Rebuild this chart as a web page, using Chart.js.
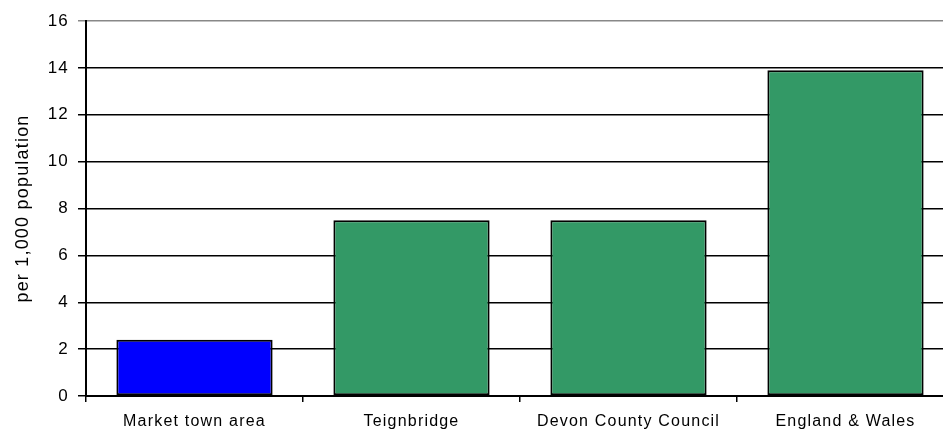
<!DOCTYPE html>
<html>
<head>
<meta charset="utf-8">
<script src="https://cdn.jsdelivr.net/npm/chart.js@4"></script>
<style>
  html, body { margin: 0; padding: 0; background: #fff; overflow: hidden; }
  #wrap { position: relative; width: 962px; height: 430px; }
</style>
</head>
<body>
<div id="wrap"><canvas id="mainChart"></canvas></div>
<script>
const categories = ['Market town area', 'Teignbridge', 'Devon County Council', 'England & Wales'];
const values = [2.4, 7.5, 7.5, 13.9];
const barColors = ['#0000ff', '#339966', '#339966', '#339966'];
const yTicks = [0, 2, 4, 6, 8, 10, 12, 14, 16];

// spaced-out text like the original export
const spacing = {
    id: 'spacing',
    beforeDraw(chart) { chart.ctx.letterSpacing = '1.2px'; }
};

document.addEventListener('DOMContentLoaded', function() {
    const ctx = document.getElementById('mainChart').getContext('2d');
    new Chart(ctx, {
        type: 'bar',
        data: {
            labels: categories,
            datasets: [{
                data: values,
                backgroundColor: barColors,
                borderColor: '#000',
                borderWidth: 2,
                borderSkipped: false,
                categoryPercentage: 1,
                barPercentage: 0.72
            }]
        },
        options: {
            responsive: true,
            maintainAspectRatio: false,
            animation: false,
            layout: { padding: { top: 21, right: 8, left: 0, bottom: 0 } },
            plugins: {
                legend: { display: false },
                tooltip: { enabled: false }
            },
            scales: {
                y: {
                    min: 0,
                    max: 16,
                    afterBuildTicks: (s) => { s.ticks = yTicks.map(v => ({ value: v })); },
                    afterFit: (s) => { s.width = 86; },
                    border: { color: '#000', width: 2 },
                    grid: {
                        color: (c) => c.tick && c.tick.value === 16 ? '#888' : '#000',
                        lineWidth: 1.5,
                        tickLength: 8
                    },
                    ticks: {
                        color: '#000',
                        padding: 9,
                        font: { family: 'Liberation Sans, Arial', size: 17 }
                    },
                    title: {
                        display: true,
                        text: 'per 1,000 population',
                        color: '#000',
                        padding: { top: 12, bottom: 4 },
                        font: { family: 'Liberation Sans, Arial', size: 18 }
                    }
                },
                x: {
                    afterFit: (s) => { s.height = 34; },
                    border: { color: '#000', width: 2 },
                    grid: {
                        drawOnChartArea: false,
                        color: '#000',
                        lineWidth: 1.5,
                        tickLength: 6
                    },
                    ticks: {
                        color: '#000',
                        padding: 10,
                        maxRotation: 0,
                        font: { family: 'Liberation Sans, Arial', size: 16 }
                    }
                }
            }
        },
        plugins: [spacing]
    });
});
</script>
</body>
</html>
